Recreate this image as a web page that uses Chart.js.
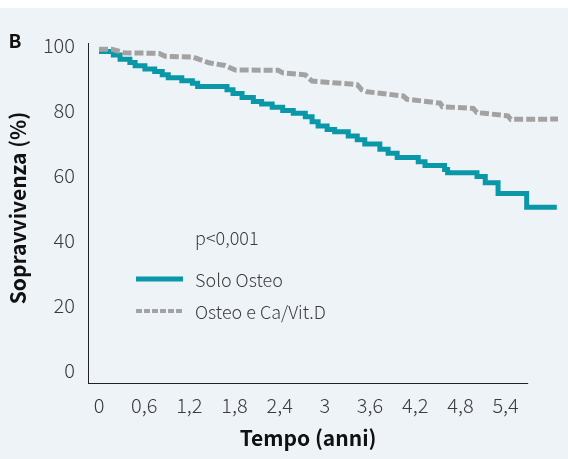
<!DOCTYPE html>
<html><head><meta charset="utf-8">
<script src="https://cdn.jsdelivr.net/npm/chart.js@4"></script>
<style>html,body{margin:0;padding:0;background:#fff;}canvas{display:block;}</style>
</head><body>
<canvas id="c" width="568" height="459"></canvas>
<script>
// ---- data ----
const timeSolo = [0, 0.19, 0.28, 0.41, 0.48, 0.61, 0.74, 0.84, 0.92, 1.10, 1.24, 1.31, 1.70, 1.78, 1.90, 2.05, 2.16, 2.30, 2.44, 2.58, 2.74, 2.83, 2.91, 3.03, 3.13, 3.31, 3.43, 3.53, 3.73, 3.84, 3.96, 4.24, 4.33, 4.59, 4.63, 5.02, 5.13, 5.30, 5.68, 6.08];
const survSolo = [98, 96.9, 95.6, 94.6, 93.6, 92.6, 91.8, 90.8, 89.9, 89.0, 88.2, 87.2, 86.2, 85.1, 83.8, 82.6, 81.8, 80.8, 79.8, 79.0, 77.9, 76.4, 75.1, 74.0, 73.3, 72.0, 70.8, 69.5, 67.9, 66.7, 65.4, 64.1, 62.9, 61.7, 60.7, 59.5, 57.6, 54.3, 50.1, 50.1];
const timeCaVitD = [0, 0.17, 0.33, 0.80, 0.88, 1.24, 1.46, 1.67, 1.81, 2.38, 2.44, 2.74, 2.83, 3.43, 3.49, 3.56, 4.04, 4.09, 4.53, 4.56, 4.97, 5.02, 5.43, 5.47, 6.10];
const survCaVitD = [98.7, 98.7, 97.6, 97.4, 96.5, 96.3, 94.5, 93.7, 92.3, 92.2, 91.4, 90.8, 88.9, 87.8, 86.2, 85.6, 84.3, 83.3, 82.1, 81.0, 80.5, 79.2, 78.2, 77.1, 77.2];
const xTickValues = [0, 0.6, 1.2, 1.8, 2.4, 3, 3.6, 4.2, 4.8, 5.4];
const xTickLabels = ['0', '0,6', '1,2', '1,8', '2,4', '3', '3,6', '4,2', '4,8', '5,4'];
const yTickValues = [0, 20, 40, 60, 80, 100];
const seriesNames = ['Solo Osteo', 'Osteo e Ca/Vit.D'];
const pValueLabel = 'p<0,001';
const panelLabel = 'B';
const xTitle = 'Tempo (anni)';
const yTitle = 'Sopravvivenza (%)';

// ---- style ----
const TEAL = '#0a97a7', GRAY = '#a2a2a2', BG = '#eef3f8', INK = '#3c3c3c';
const FAM = '"Noto Sans CJK SC", "Noto Sans", sans-serif';
const X_AXIS_END = 5.7;

const toPts = (xs, ys) => xs.map((x, i) => ({x, y: ys[i]}));

const bgPlugin = {
  id: 'bg',
  beforeDraw(chart) {
    const ctx = chart.ctx;
    ctx.save();
    ctx.fillStyle = '#ffffff';
    ctx.fillRect(0, 0, chart.width, 8);
    ctx.fillStyle = BG;
    ctx.fillRect(0, 8, chart.width, chart.height - 8);
    ctx.restore();
  }
};

const decorPlugin = {
  id: 'decor',
  afterDraw(chart) {
    const ctx = chart.ctx, ca = chart.chartArea, xs = chart.scales.x;
    ctx.save();
    ctx.strokeStyle = '#222'; ctx.lineWidth = 1;
    ctx.beginPath();
    ctx.moveTo(ca.left, ca.bottom + 0.5);
    ctx.lineTo(xs.getPixelForValue(X_AXIS_END), ca.bottom + 0.5);
    ctx.stroke();
    ctx.fillStyle = '#111';
    ctx.font = 'bold 21px ' + FAM;
    ctx.textAlign = 'center'; ctx.textBaseline = 'middle';
    ctx.fillText(xTitle, (ca.left + xs.getPixelForValue(X_AXIS_END)) / 2, 438);
    ctx.save();
    ctx.translate(18, 208); ctx.rotate(-Math.PI / 2);
    ctx.fillText(yTitle, 0, 0);
    ctx.restore();
    ctx.font = 'bold 19px ' + FAM;
    ctx.fillText(panelLabel, 15, 41);
    ctx.lineWidth = 5; ctx.strokeStyle = TEAL; ctx.lineCap = 'butt';
    ctx.beginPath(); ctx.moveTo(136, 279); ctx.lineTo(183, 279); ctx.stroke();
    ctx.lineWidth = 4; ctx.strokeStyle = GRAY; ctx.setLineDash([6, 2]);
    ctx.beginPath(); ctx.moveTo(136, 311); ctx.lineTo(183, 311); ctx.stroke();
    ctx.setLineDash([]);
    ctx.fillStyle = INK; ctx.textAlign = 'left';
    ctx.font = '300 18px ' + FAM;
    ctx.fillText(pValueLabel, 195, 238);
    ctx.fillText(seriesNames[0], 195, 280);
    ctx.fillText(seriesNames[1], 195, 312);
    ctx.restore();
  }
};

new Chart(document.getElementById('c'), {
  type: 'line',
  data: {
    datasets: [
      { label: seriesNames[1], data: toPts(timeCaVitD, survCaVitD), borderColor: GRAY, borderWidth: 5, borderDash: [9, 3], stepped: false, tension: 0, pointRadius: 0, fill: false },
      { label: seriesNames[0], data: toPts(timeSolo, survSolo), borderColor: TEAL, borderWidth: 5, stepped: 'before', pointRadius: 0, fill: false }
    ]
  },
  options: {
    responsive: false, animation: false, devicePixelRatio: 1,
    layout: { padding: { top: 43, left: 0, right: 10, bottom: 0 } },
    plugins: { legend: { display: false }, tooltip: { enabled: false } },
    scales: {
      x: {
        type: 'linear', min: -0.146, max: 6.096,
        grid: { display: false, drawTicks: false },
        border: { display: false },
        afterBuildTicks: s => { s.ticks = xTickValues.map(v => ({ value: v })); },
        afterFit: s => { s.height = 76; },
        ticks: { padding: 10, color: INK, font: { family: FAM, size: 20, weight: '300' }, maxRotation: 0, autoSkip: false,
          callback: (v, i) => xTickLabels[i] }
      },
      y: {
        min: -4, max: 100.6,
        grid: { display: false, drawTicks: false },
        border: { display: true, color: '#222', width: 1 },
        afterBuildTicks: s => { s.ticks = yTickValues.map(v => ({ value: v })); },
        afterFit: s => { s.width = 88; },
        ticks: { padding: 13, color: INK, font: { family: FAM, size: 20, weight: '300' }, callback: v => String(v) }
      }
    }
  },
  plugins: [bgPlugin, decorPlugin]
});
</script>
</body></html>
